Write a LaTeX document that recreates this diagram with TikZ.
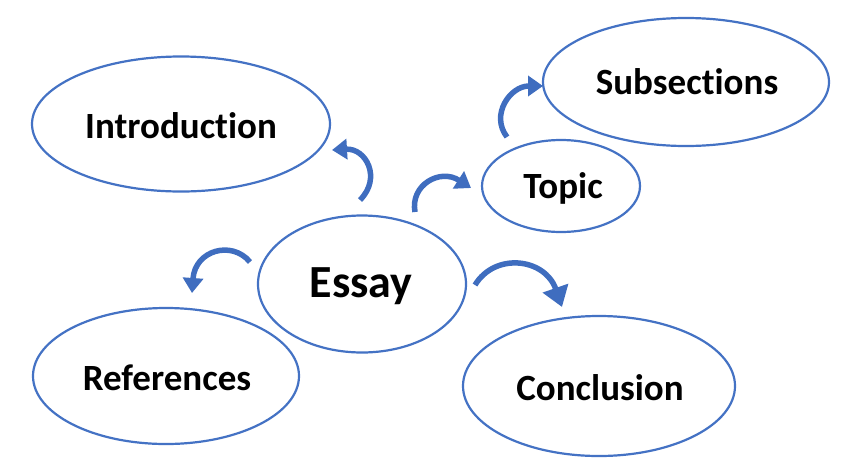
\documentclass[tikz,border=0pt]{standalone}
\usepackage{fontspec}
\setmainfont[Ligatures=NoCommon]{Carlito}
\usetikzlibrary{shapes.geometric,arrows.meta}
\definecolor{obl}{HTML}{4472C4}
\definecolor{arw}{HTML}{3F6DBF}
\tikzset{
  bubble/.style={draw=obl,line width=2.2pt,fill=white,ellipse,inner sep=0pt},
  lbl/.style={font=\bfseries\fontsize{37}{40}\selectfont,text=black},
  curvy/.style={draw=arw,line width=5.5pt,-{Triangle[width=20pt,length=15pt]}},
}
\begin{document}
\begin{tikzpicture}[x=1pt,y=-1pt]
\useasboundingbox (0,0) rectangle (853,461);
\node[bubble,minimum width=298pt,minimum height=135pt] (intro) at (181,124) {};
\node[lbl] at (181,126) {Introduction};
\node[bubble,minimum width=286pt,minimum height=128pt] (sub) at (686,82) {};
\node[lbl] at (687,82) {Subsections};
\node[bubble,minimum width=158pt,minimum height=92pt] (topic) at (561,186) {};
\node[lbl] at (563,188) {Topic};
\node[bubble,minimum width=208pt,minimum height=137pt] (essay) at (362,284) {};
\node[font=\bfseries\fontsize{46}{50}\selectfont] at (361,286) {Essay};
\node[bubble,minimum width=266pt,minimum height=136pt] (refs) at (166,376) {};
\node[lbl] at (167,378) {References};
\node[bubble,minimum width=272pt,minimum height=140pt] (concl) at (599,386) {};
\node[lbl] at (600,388) {Conclusion};

\coordinate (a1s) at (360,200); \coordinate (a1e) at (332,150);
\coordinate (a2s) at (415,212); \coordinate (a2e) at (471,188);
\coordinate (a3s) at (507,137); \coordinate (a3e) at (543,86);
\coordinate (a4s) at (250,262); \coordinate (a4e) at (192,293);
\coordinate (a5s) at (475,285); \coordinate (a5e) at (562,307);
\draw[curvy] (a1s) .. controls (382,178) and (366,148) .. (a1e);
\draw[curvy] (a2s) .. controls (410,185) and (440,168) .. (a2e);
\draw[curvy] (a3s) .. controls (490,115) and (510,86) .. (a3e);
\draw[curvy] (a4s) .. controls (232,240) and (195,250) .. (a4e);
\draw[curvy,-{Triangle[width=26pt,length=20pt]}] (a5s) .. controls (495,252) and (545,258) .. (a5e);
\end{tikzpicture}
\end{document}
